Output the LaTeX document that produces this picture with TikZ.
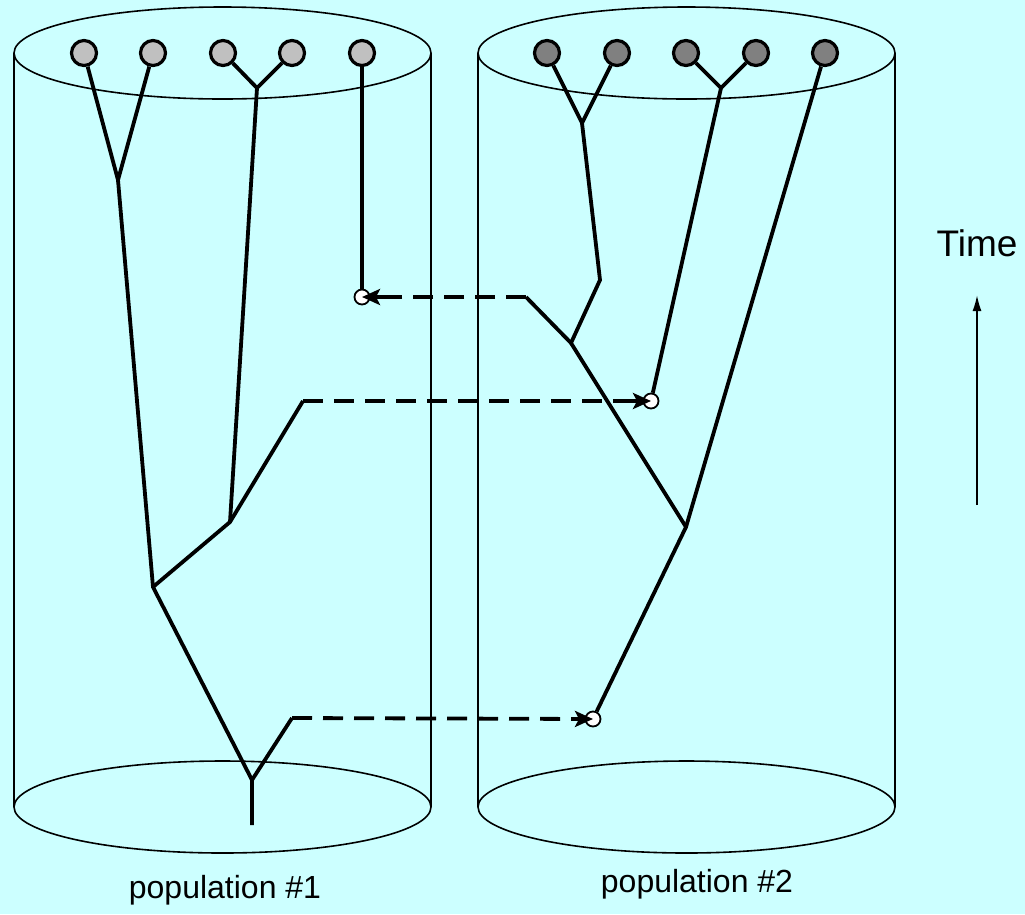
\documentclass[tikz,border=0pt]{standalone}
\usepackage{fontspec}
\setmainfont{Liberation Sans}
\usetikzlibrary{arrows.meta,calc}
\definecolor{bgc}{RGB}{204,255,255}
\definecolor{lg}{RGB}{192,192,192}
\definecolor{dg}{RGB}{128,128,128}
\begin{document}
\begin{tikzpicture}[x=1pt,y=-1pt,
  cyl/.style={line width=1.6pt},
  br/.style={line width=3.8pt},
  samp/.style={circle, draw, line width=3.2pt, minimum size=25pt, inner sep=0pt},
  mig/.style={circle, draw, line width=1.8pt, fill=white, minimum size=15pt, inner sep=0pt},
  migline/.style={line width=3.8pt, dash pattern=on 20pt off 11pt, shorten >=14pt},
  migtip/.style={line width=3.8pt, -{Stealth[length=18pt,width=16pt,inset=4pt]}},
  lab/.style={font=\fontsize{32}{36}\selectfont}]
\fill[bgc] (0,0) rectangle (1025,914);
\useasboundingbox (0,0) rectangle (1025,914);
% cylinders
\draw[cyl] (14,53) -- (14,807);
\draw[cyl] (431,53) -- (431,807);
\draw[cyl] (222.5,53) ellipse [x radius=208.5, y radius=46];
\draw[cyl] (222.5,807) ellipse [x radius=208.5, y radius=46];
\draw[cyl] (478,53) -- (478,807);
\draw[cyl] (895,53) -- (895,807);
\draw[cyl] (686.5,53) ellipse [x radius=208.5, y radius=46];
\draw[cyl] (686.5,807) ellipse [x radius=208.5, y radius=46];
% sample nodes
\node[samp,fill=lg] (a1) at (84,53) {};
\node[samp,fill=lg] (a2) at (153,53) {};
\node[samp,fill=lg] (a3) at (223,53) {};
\node[samp,fill=lg] (a4) at (292,53) {};
\node[samp,fill=lg] (a5) at (362,53) {};
\node[samp,fill=dg] (b1) at (547,53) {};
\node[samp,fill=dg] (b2) at (617,53) {};
\node[samp,fill=dg] (b3) at (686,53) {};
\node[samp,fill=dg] (b4) at (756,53) {};
\node[samp,fill=dg] (b5) at (825,53) {};
% migration nodes
\node[mig] (m1) at (362,297) {};
\node[mig] (m2) at (651,401) {};
\node[mig] (m3) at (593,719) {};
% junctions
\coordinate (A) at (118,180);
\coordinate (B) at (257,88);
\coordinate (C) at (153,587);
\coordinate (D) at (230,522);
\coordinate (E) at (303,401);
\coordinate (F) at (252,780);
\coordinate (G) at (292,718);
\coordinate (R) at (252,825);
\coordinate (H) at (582,123);
\coordinate (J) at (600,280);
\coordinate (K) at (571,343);
\coordinate (S) at (526,297);
\coordinate (I) at (721,88);
\coordinate (L) at (686,527);
% population 1 tree
\draw[br] (a1) -- (A) -- (a2);
\draw[br] (a3) -- (B) -- (a4);
\draw[br] (a5) -- (m1);
\draw[br] (A) -- (C) -- (F) -- (R);
\draw[br] (B) -- (D) -- (C);
\draw[br] (D) -- (E);
\draw[br] (F) -- (G);
% population 2 tree
\draw[br] (b1) -- (H) -- (b2);
\draw[br] (b3) -- (I) -- (b4);
\draw[br] (H) -- (J) -- (K) -- (S);
\draw[br] (K) -- (L);
\draw[br] (b5) -- (L) -- (m3);
\draw[br] (I) -- (m2);
% migrations
\draw[migline] (S) -- (m1.center);
\draw[migtip] ($(m1.center)!20pt!(S)$) -- (m1.center);
\draw[migline] (E) -- (m2.center);
\draw[migtip] ($(m2.center)!20pt!(E)$) -- (m2.center);
\draw[migline] (G) -- (m3.center);
\draw[migtip] ($(m3.center)!20pt!(G)$) -- (m3.center);
% time
\node[font=\fontsize{37}{40}\selectfont] (time) at (977,243) {Time};
\coordinate (t0) at (977,505);
\coordinate (t1) at (977,295);
\draw[line width=1.8pt,-{Latex[length=16pt,width=9pt]}] (t0) -- (t1);
% labels
\node[lab] (p1) at (225,890) {population \#1};
\node[lab] (p2) at (697,884) {population \#2};
\end{tikzpicture}
\end{document}
